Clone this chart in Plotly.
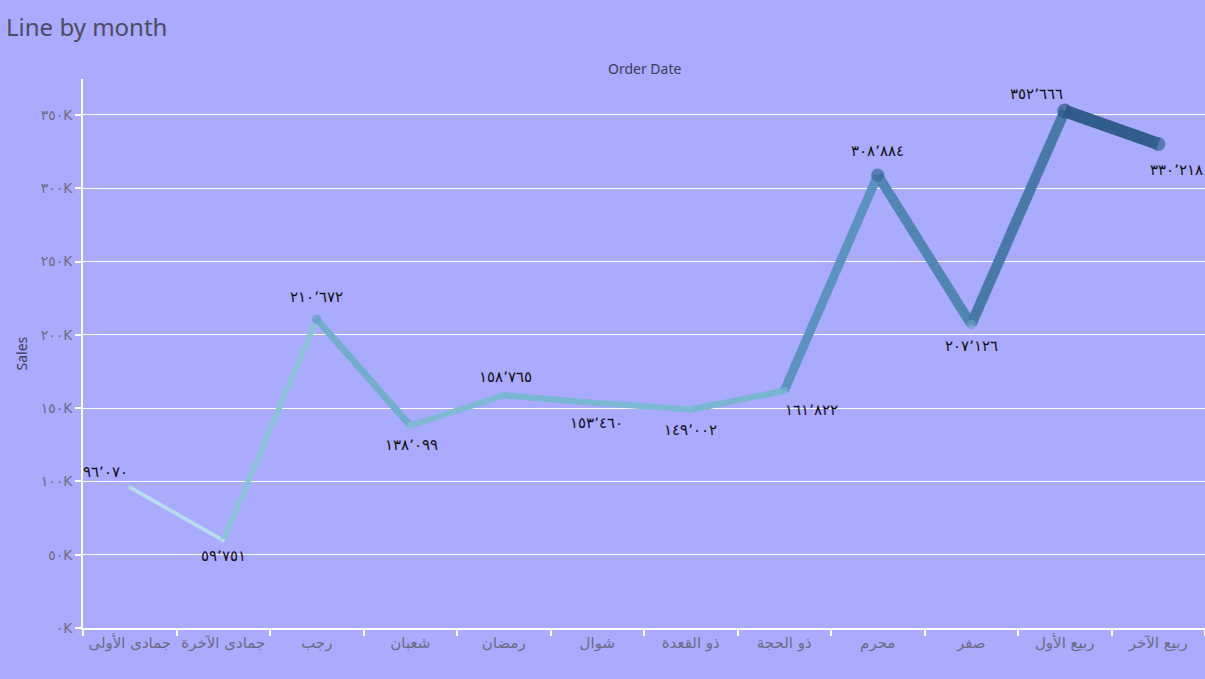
import plotly.graph_objects as go
from plotly.colors import sample_colorscale

# ---- data ----
months = ["جمادى الأولى", "جمادى الآخرة", "رجب", "شعبان", "رمضان", "شوال",
          "ذو القعدة", "ذو الحجة", "محرم", "صفر", "ربيع الأول", "ربيع الآخر"]
sales = [96070, 59751, 210672, 138099, 158765, 153460,
         149002, 161822, 308884, 207126, 352666, 330218]
y_tick_values = [0, 50000, 100000, 150000, 200000, 250000, 300000, 350000]

# ---- helpers ----
AR_DIGITS = str.maketrans("0123456789,", "٠١٢٣٤٥٦٧٨٩٬")


def ar_num(v):
    return f"{v:,}".translate(AR_DIGITS)


def ar_k(v):
    return f"{v // 1000}".translate(AR_DIGITS) + "K"


y_tick_text = [ar_k(v) for v in y_tick_values]

# styles
BG = "#aaaaff"
scale = [[0, "#c6e7f0"], [0.35, "#74b3ce"], [0.6, "#5a93bf"],
         [0.85, "#3b6a99"], [1, "#2c5987"]]
vmin, vmax = min(sales), max(sales)


def norm(v):
    return (v - vmin) / (vmax - vmin)


def width_of(v):
    return 3 + 10 * norm(v)


def color_of(v):
    return sample_colorscale(scale, [norm(v)])[0]


# label offsets (xshift, yshift) in px -- style only
label_offsets = [(-24, 15), (0, -16), (0, 22), (1, -19), (2, 18), (-1, -20),
                 (0, -20), (27, -19), (0, 24), (0, -22), (-28, 17), (18, -26)]

fig = go.Figure()

for i in range(len(months) - 1):
    mid = (sales[i] + sales[i + 1]) / 2
    fig.add_trace(go.Scatter(
        x=[months[i], months[i + 1]], y=[sales[i], sales[i + 1]],
        mode="lines",
        line=dict(color=color_of(mid), width=width_of(mid)),
        hoverinfo="skip", showlegend=False))

fig.add_trace(go.Scatter(
    x=months, y=sales, mode="markers",
    marker=dict(size=[width_of(v) * 1.15 for v in sales],
                color=[color_of(v) for v in sales], line=dict(width=0)),
    showlegend=False))

annotations = []
for m, v, (dx, dy) in zip(months, sales, label_offsets):
    annotations.append(dict(x=m, y=v, text=ar_num(v), showarrow=False,
                            xshift=dx, yshift=dy, xanchor="center", yanchor="middle",
                            font=dict(size=15, color="#111111",
                                      family="DejaVu Sans, Noto Sans")))

annotations.append(dict(text="Order Date", xref="paper", yref="paper", x=0.5, y=1,
                        yshift=11, showarrow=False, xanchor="center", yanchor="middle",
                        font=dict(size=14, color="#3b3b55", family="Noto Sans")))
annotations.append(dict(text="Sales", xref="paper", yref="paper", x=0, y=0.5,
                        xshift=-62, showarrow=False, textangle=-90,
                        xanchor="center", yanchor="middle",
                        font=dict(size=14, color="#3b3b55", family="Noto Sans")))

fig.update_layout(
    width=1205, height=679,
    paper_bgcolor=BG, plot_bgcolor=BG,
    margin=dict(l=83, r=0, t=79, b=51),
    title=dict(text="Line by month", x=0.005, xref="container", xanchor="left",
               y=0.96, yref="container", yanchor="middle",
               font=dict(size=24, color="#4a4a60", family="Noto Sans")),
    annotations=annotations,
    xaxis=dict(type="category", categoryorder="array", categoryarray=months,
               range=[-0.5, 11.5], showgrid=False,
               showline=True, linecolor="white", linewidth=2,
               ticks="outside", tickson="boundaries", ticklen=6,
               tickcolor="white", tickwidth=1.5,
               tickfont=dict(size=15, color="#6a6a80",
                             family="DejaVu Sans, Noto Sans"),
               zeroline=False),
    yaxis=dict(range=[0, 374500], tickvals=y_tick_values, ticktext=y_tick_text,
               showgrid=True, gridcolor="white", gridwidth=1.2,
               showline=True, linecolor="white", linewidth=1.5,
               ticks="outside", ticklen=6, tickcolor="white", tickwidth=2,
               tickfont=dict(size=14, color="#6a6a80",
                             family="DejaVu Sans, Noto Sans"),
               zeroline=False),
)

fig.write_html("out.html", config={"displayModeBar": False},
               post_script="document.body.style.margin='0';"
                           "document.documentElement.style.margin='0';")
